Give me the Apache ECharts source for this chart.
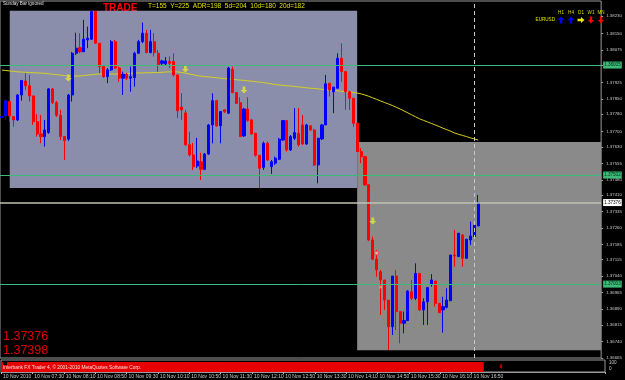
<!DOCTYPE html>
<html>
<head>
<meta charset="utf-8">
<script src="https://cdn.jsdelivr.net/npm/echarts@6/dist/echarts.min.js"></script>
<style>
  html, body { margin: 0; padding: 0; background: #000; }
  #mychart { width: 625px; height: 380px; }
</style>
</head>
<body>
<div id="mychart"></div>
<script>
// EURUSD M5, 10 Nov 2010 - bars
var opens = [1.37766,1.37772,1.37838,1.37769,1.37754,1.37868,1.37932,1.37910,1.37864,1.37746,
  1.37690,1.37678,1.37696,1.37896,1.37833,1.37775,1.37678,1.37666,1.37868,1.38059,
  1.38085,1.38066,1.38120,1.38123,1.38250,1.38105,1.37998,1.37952,1.37983,1.38112,
  1.37991,1.37945,1.37964,1.37945,1.37948,1.38059,1.38112,1.38151,1.38062,1.38112,
  1.38059,1.38013,1.38010,1.38021,1.38021,1.37960,1.37813,1.37786,1.37640,1.37594,
  1.37543,1.37563,1.37528,1.37598,1.37731,1.37842,1.37727,1.37800,1.37785,1.37986,
  1.37879,1.37833,1.37681,1.37804,1.37754,1.37693,1.37592,1.37537,1.37647,1.37540,
  1.37556,1.37574,1.37662,1.37751,1.37617,1.37670,1.37693,1.37731,1.37644,1.37727,
  1.37708,1.37548,1.37667,1.37731,1.37922,1.37883,1.37899,1.38036,1.37975,1.37883,
  1.37853,1.37739,1.37609,1.37586,1.37457,1.37205,1.37117,1.37060,1.37022,1.36930,
  1.36808,1.37040,1.36877,1.36824,1.36836,1.36968,1.36938,1.37052,1.36885,1.36922,
  1.37004,1.37017,1.36915,1.36885,1.36897,1.36927,1.37136,1.37129,1.37228,1.37121,
  1.37205,1.37220,1.37269];
var closes = [1.37769,1.37842,1.37772,1.37754,1.37868,1.37934,1.37910,1.37864,1.37746,1.37690,
  1.37678,1.37708,1.37896,1.37833,1.37775,1.37678,1.37659,1.37868,1.38059,1.38082,
  1.38066,1.38123,1.38128,1.38250,1.38105,1.37998,1.37952,1.37983,1.38112,1.37991,
  1.37945,1.37964,1.37945,1.37952,1.38059,1.38112,1.38151,1.38062,1.38112,1.38062,
  1.38006,1.38024,1.38024,1.38013,1.37960,1.37796,1.37800,1.37640,1.37594,1.37540,
  1.37566,1.37528,1.37598,1.37731,1.37842,1.37727,1.37792,1.37791,1.37991,1.37879,
  1.37830,1.37678,1.37804,1.37751,1.37690,1.37592,1.37533,1.37647,1.37571,1.37563,
  1.37579,1.37666,1.37751,1.37617,1.37678,1.37696,1.37640,1.37644,1.37731,1.37708,
  1.37548,1.37670,1.37731,1.37919,1.37891,1.37904,1.38036,1.37975,1.37883,1.37853,
  1.37739,1.37609,1.37586,1.37457,1.37205,1.37117,1.37068,1.37022,1.36930,1.36808,
  1.37040,1.36877,1.36824,1.36836,1.36971,1.36938,1.37052,1.36885,1.36922,1.36987,
  1.37022,1.36915,1.36872,1.36900,1.36930,1.37136,1.37132,1.37236,1.37121,1.37208,
  1.37223,1.37273,1.37376];
var lows = [1.37763,1.37754,1.37746,1.37723,1.37749,1.37842,1.37891,1.37838,1.37731,1.37678,
  1.37647,1.37632,1.37690,1.37827,1.37768,1.37662,1.37571,1.37658,1.37838,1.38051,
  1.38059,1.38065,1.38082,1.38120,1.38102,1.37968,1.37945,1.37922,1.37978,1.37987,
  1.37929,1.37868,1.37937,1.37883,1.37906,1.38056,1.38105,1.38059,1.38059,1.38044,
  1.37975,1.38001,1.38001,1.37991,1.37952,1.37762,1.37754,1.37635,1.37586,1.37525,
  1.37534,1.37479,1.37525,1.37594,1.37647,1.37722,1.37647,1.37786,1.37781,1.37876,
  1.37827,1.37676,1.37676,1.37746,1.37685,1.37586,1.37441,1.37525,1.37566,1.37507,
  1.37548,1.37571,1.37658,1.37609,1.37612,1.37662,1.37632,1.37640,1.37640,1.37704,
  1.37543,1.37464,1.37662,1.37731,1.37861,1.37785,1.37899,1.37929,1.37800,1.37800,
  1.37723,1.37608,1.37556,1.37452,1.37200,1.37113,1.37037,1.36862,1.36885,1.36702,
  1.36770,1.36793,1.36732,1.36778,1.36834,1.36930,1.36930,1.36880,1.36816,1.36816,
  1.36991,1.36900,1.36871,1.36781,1.36892,1.36926,1.37083,1.37127,1.37083,1.37118,
  1.37182,1.37219,1.37269];
var highs = [1.37772,1.37849,1.37838,1.37772,1.37873,1.37937,1.37968,1.37960,1.37864,1.37781,
  1.37777,1.37754,1.37900,1.37900,1.37841,1.37800,1.37681,1.37873,1.38065,1.38153,
  1.38151,1.38212,1.38181,1.38253,1.38253,1.38106,1.38001,1.37991,1.38120,1.38120,
  1.37998,1.37975,1.37969,1.37998,1.38066,1.38120,1.38199,1.38166,1.38166,1.38151,
  1.38074,1.38029,1.38042,1.38044,1.38059,1.37960,1.37877,1.37800,1.37700,1.37649,
  1.37672,1.37604,1.37603,1.37736,1.37876,1.37846,1.37795,1.37804,1.37997,1.37998,
  1.37882,1.37858,1.37809,1.37858,1.37759,1.37694,1.37594,1.37655,1.37655,1.37571,
  1.37586,1.37672,1.37754,1.37754,1.37685,1.37808,1.37808,1.37777,1.37736,1.37731,
  1.37713,1.37672,1.37736,1.37960,1.37923,1.37905,1.38059,1.38105,1.37978,1.37887,
  1.37855,1.37740,1.37625,1.37590,1.37461,1.37220,1.37159,1.37068,1.37022,1.36930,
  1.37040,1.37068,1.36880,1.36877,1.36976,1.37022,1.37098,1.37054,1.36938,1.36990,
  1.37049,1.37017,1.36917,1.36945,1.36984,1.37136,1.37251,1.37237,1.37232,1.37210,
  1.37289,1.37278,1.37411];
// yellow moving average
var maVals = [1.37982,1.37980,1.37978,1.37976,1.37974,1.37973,1.37972,1.37971,1.37970,1.37969,
  1.37968,1.37967,1.37965,1.37963,1.37961,1.37959,1.37957,1.37955,1.37955,1.37955,
  1.37955,1.37957,1.37959,1.37961,1.37963,1.37964,1.37964,1.37964,1.37964,1.37964,
  1.37964,1.37965,1.37966,1.37967,1.37968,1.37969,1.37969,1.37970,1.37970,1.37971,
  1.37971,1.37972,1.37973,1.37974,1.37974,1.37974,1.37971,1.37968,1.37964,1.37961,
  1.37957,1.37954,1.37952,1.37951,1.37949,1.37947,1.37945,1.37943,1.37942,1.37940,
  1.37938,1.37936,1.37935,1.37933,1.37931,1.37929,1.37927,1.37925,1.37922,1.37919,
  1.37916,1.37914,1.37912,1.37910,1.37909,1.37907,1.37905,1.37903,1.37901,1.37899,
  1.37898,1.37896,1.37894,1.37892,1.37890,1.37888,1.37887,1.37885,1.37883,1.37882,
  1.37880,1.37877,1.37873,1.37868,1.37862,1.37855,1.37848,1.37841,1.37834,1.37827,
  1.37820,1.37812,1.37804,1.37795,1.37786,1.37777,1.37768,1.37759,1.37752,1.37745,
  1.37738,1.37731,1.37724,1.37716,1.37709,1.37702,1.37694,1.37688,1.37683,1.37678,
  1.37672,1.37667,1.37662];
// indicator window (histogram, 0..100)
var indVals = [100,100,100,100,100,100,100,100,100,100,100,100,100,100,100,100,100,100,100,100,
  100,100,100,100,100,100,100,100,100,100,100,100,100,100,100,100,100,100,100,100,
  100,100,100,100,100,100,100,100,100,100,100,100,100,100,100,100,100,100,100,100,
  100,100,100,100,100,100,100,100,100,100,100,100,100,100,100,100,100,100,100,100,
  100,100,100,100,100,100,100,100,100,100,100,100,100,100,100,100,100,100,100,100,
  100,100,100,100,100,100,100,100,100,100,100,100,100,100,100,100,100,100,100,100,
  100,100,100];
var indMarkIdx = [127];
var indMarkVal = [55];

// arrows / dots on chart
var arrowIdx = [17, 47, 62, 95];
var arrowPrice = [1.37946, 1.37987, 1.37891, 1.37292];
var dotIdx = [96, 97];
var dotPrice = [1.37145, 1.36990];

// rectangles (time range, price range); Infinity = right edge of chart
var boxFrom = ['07:00', '14:25'];
var boxTo = ['14:25', Infinity];
var boxTop = [1.38253, 1.37653];
var boxBottom = [1.37443, 1.36701];

var levels = [1.38005, 1.37502, 1.37003];
var bidPrice = 1.37376;
var nowTime = '16:55';

var yTicks = ['1.36665','1.36740','1.36815','1.36890','1.36965','1.37040','1.37115','1.37185',
  '1.37260','1.37335','1.37410','1.37480','1.37555','1.37630','1.37700','1.37780','1.37850',
  '1.37925','1.38005','1.38075','1.38150','1.38230'];
var tfNames = ['H1', 'H4', 'D1', 'W1', 'MN'];
var tfDir = ['up', 'up', 'flat', 'down', 'down'];
var priceTexts = ['1.37376', '1.37398'];

var times = [];
for (var k = 0; k < 154; k++) {
  var m = 6 * 60 + 50 + 5 * k;
  times.push(('0' + Math.floor(m / 60)).slice(-2) + ':' + ('0' + (m % 60)).slice(-2));
}

var FONT = 'Liberation Sans';
var candles = opens.map(function (o, i) { return [o, closes[i], lows[i], highs[i]]; });

function tfArrow(cx, cy, dir, color) {
  var p;
  if (dir === 'up') p = [[cx, cy - 3.5], [cx + 3, cy], [cx + 1.2, cy], [cx + 1.2, cy + 3.5], [cx - 1.2, cy + 3.5], [cx - 1.2, cy], [cx - 3, cy]];
  else if (dir === 'down') p = [[cx, cy + 3.5], [cx + 3, cy], [cx + 1.2, cy], [cx + 1.2, cy - 3.5], [cx - 1.2, cy - 3.5], [cx - 1.2, cy], [cx - 3, cy]];
  else p = [[cx + 3.5, cy], [cx, cy - 3], [cx, cy - 1.2], [cx - 3.5, cy - 1.2], [cx - 3.5, cy + 1.2], [cx, cy + 1.2], [cx, cy + 3]];
  return { type: 'polygon', shape: { points: p }, style: { fill: color } };
}

var graphics = [
  { type: 'text', x: 3, y: 4, style: { text: 'Sunday Bar ignored', fill: '#e0e0e0', fontSize: 4.6, fontFamily: FONT, textVerticalAlign: 'middle' } },
  { type: 'text', x: 103, y: 8, style: { text: 'TRADE', fill: '#ff0000', fontSize: 10, fontWeight: 'bold', fontFamily: FONT, textVerticalAlign: 'middle' } },
  { type: 'text', x: 148, y: 6, style: { text: 'T=155  Y=225  ADR=198  5d=204  10d=180  20d=182', fill: '#e0e000', fontSize: 6.5, fontFamily: FONT, textVerticalAlign: 'middle' } },
  { type: 'text', x: 555, y: 20, style: { text: 'EURUSD', fill: '#e0e000', fontSize: 4.6, fontFamily: FONT, textAlign: 'right', textVerticalAlign: 'middle' } },
  { type: 'text', x: 505, y: 196, style: { text: '0:30', fill: '#c8c832', fontSize: 9, fontFamily: FONT, textVerticalAlign: 'middle' } },
  { type: 'text', x: 3, y: 336.5, style: { text: priceTexts[0], fill: '#e00000', fontSize: 12.5, fontFamily: FONT, textVerticalAlign: 'middle' } },
  { type: 'text', x: 3, y: 350.5, style: { text: priceTexts[1], fill: '#e00000', fontSize: 12.5, fontFamily: FONT, textVerticalAlign: 'middle' } },
  { type: 'rect', shape: { x: 3, y: 361, width: 4, height: 4 }, style: { fill: '#000' }, z: 50 },
  { type: 'text', x: 3, y: 368, z: 50, style: { text: 'Interbank FX Trader 4, \u00a9 2001-2010 MetaQuotes Software Corp.', fill: '#ffe0e0', fontSize: 4.8, fontFamily: FONT, textVerticalAlign: 'middle' } },
  { type: 'text', x: 609, y: 363, style: { text: '100', fill: '#c8c8c8', fontSize: 4.6, fontFamily: FONT, textVerticalAlign: 'middle' } },
  { type: 'text', x: 609, y: 369, style: { text: '0', fill: '#c8c8c8', fontSize: 4.6, fontFamily: FONT, textVerticalAlign: 'middle' } }
];
tfNames.forEach(function (n, i) {
  var cx = 561 + i * 10;
  graphics.push({ type: 'text', x: cx, y: 13, style: { text: n, fill: '#d8d800', fontSize: 4.6, fontFamily: FONT, textAlign: 'center', textVerticalAlign: 'middle' } });
  var col = tfDir[i] === 'up' ? '#0000ff' : (tfDir[i] === 'down' ? '#ff0000' : '#e8e800');
  graphics.push(tfArrow(cx, 20, tfDir[i], col));
});

var mychart = echarts.init(document.getElementById('mychart'));
var option = {
  animation: false,
  backgroundColor: '#000000',
  textStyle: { fontFamily: FONT },
  grid: [
    { left: 0, top: 1, width: 605, height: 357, show: true, borderColor: '#9a9a9a', borderWidth: 1 },
    { left: 0, top: 360, width: 605, height: 12, show: true, borderColor: '#9a9a9a', borderWidth: 1 }
  ],
  xAxis: [
    { gridIndex: 0, type: 'category', data: times, boundaryGap: true,
      axisLine: { show: false }, axisTick: { show: false }, axisLabel: { show: false }, splitLine: { show: false } },
    { gridIndex: 1, type: 'category', data: times, boundaryGap: true,
      axisLine: { show: true, lineStyle: { color: '#9a9a9a' } },
      axisTick: { show: true, length: 2, lineStyle: { color: '#b0b0b0' },
        interval: function (i) { return i % 8 === 0 && i <= 120; } },
      axisLabel: { show: true, fontSize: 5, color: '#c8c8c8', margin: 2, align: 'left',
        interval: function (i) { return i % 8 === 0 && i <= 120; },
        formatter: function (v, i) { return i === 0 ? '10 Nov 2010' : '10 Nov ' + v; } },
      splitLine: { show: false } }
  ],
  yAxis: [
    { gridIndex: 0, type: 'value', position: 'right', min: 1.36665, max: 1.38298, scale: true,
      splitLine: { show: false }, axisLine: { show: false },
      axisTick: { show: true, length: 2, customValues: yTicks.map(Number), lineStyle: { color: '#a0a0a0' } },
      axisLabel: { customValues: yTicks.map(Number), fontSize: 4.4, color: '#c8c8c8', margin: 5,
        formatter: function (v) { return v.toFixed(5); } } },
    { gridIndex: 1, type: 'value', min: 0, max: 120, show: false }
  ],
  series: [
    { // rectangles and horizontal / vertical lines
      type: 'line', xAxisIndex: 0, yAxisIndex: 0, data: [], z: 1, silent: true,
      markArea: {
        silent: true,
        data: [
          [{ xAxis: boxFrom[0], yAxis: boxTop[0], itemStyle: { color: '#8a8eab' } }, { xAxis: boxTo[0], yAxis: boxBottom[0] }],
          [{ xAxis: boxFrom[1], yAxis: boxTop[1], itemStyle: { color: '#8a8a8a' } }, { xAxis: boxTo[1], yAxis: boxBottom[1] }]
        ]
      },
      markLine: {
        silent: true, symbol: 'none', precision: 5,
        data: levels.map(function (v) {
          return { yAxis: v, lineStyle: { color: '#3cba78', width: 1, type: 'solid' },
            label: { show: true, position: 'end', distance: 2, fontSize: 4.6, color: '#002a10',
              backgroundColor: '#3cba78', padding: [1, 1], formatter: v.toFixed(5) } };
        }).concat([
          { yAxis: bidPrice, lineStyle: { color: '#c0c0b4', width: 1.5, type: 'solid' },
            label: { show: true, position: 'end', distance: 2, fontSize: 4.6, color: '#000',
              backgroundColor: '#ffffff', padding: [1, 1], formatter: bidPrice.toFixed(5) } },
          { xAxis: nowTime, lineStyle: { color: '#c8c8c8', width: 1, type: [4, 3] }, label: { show: false } }
        ])
      }
    },
    { type: 'line', name: 'MA', xAxisIndex: 0, yAxisIndex: 0, data: maVals, z: 2,
      showSymbol: false, symbol: 'none', lineStyle: { color: '#d8d020', width: 1 } },
    { type: 'candlestick', name: 'EURUSD', xAxisIndex: 0, yAxisIndex: 0, data: candles, z: 3,
      barWidth: 2.6,
      itemStyle: { color: '#0000ff', color0: '#ff0000', borderColor: '#0000ff', borderColor0: '#ff0000', borderWidth: 1 } },
    { type: 'scatter', xAxisIndex: 0, yAxisIndex: 0, z: 4,
      data: arrowIdx.map(function (x, i) { return [x, arrowPrice[i]]; }),
      symbol: 'path://M3,0 L7,0 L7,5 L10,5 L5,10 L0,5 L3,5 Z', symbolSize: [7, 7],
      itemStyle: { color: '#e6e630' } },
    { type: 'scatter', xAxisIndex: 0, yAxisIndex: 0, z: 4,
      data: [[dotIdx[0], dotPrice[0]]], symbol: 'circle', symbolSize: 4,
      itemStyle: { color: '#ffc0c0', borderColor: '#ff3030', borderWidth: 1 } },
    { type: 'scatter', xAxisIndex: 0, yAxisIndex: 0, z: 4,
      data: [[dotIdx[1], dotPrice[1]]], symbol: 'circle', symbolSize: 3,
      itemStyle: { color: '#ffa040' } },
    { type: 'bar', xAxisIndex: 1, yAxisIndex: 1, data: indVals, barWidth: 4.6, z: 2,
      itemStyle: { color: '#e80000' } },
    { type: 'scatter', xAxisIndex: 1, yAxisIndex: 1, z: 3,
      data: indMarkIdx.map(function (x, i) { return [x, indMarkVal[i]]; }),
      symbol: 'path://M3,0 L7,0 L7,5 L10,5 L5,10 L0,5 L3,5 Z', symbolSize: [4, 5],
      itemStyle: { color: '#e80000' } }
  ],
  graphic: graphics
};
mychart.setOption(option);
</script>
</body>
</html>
